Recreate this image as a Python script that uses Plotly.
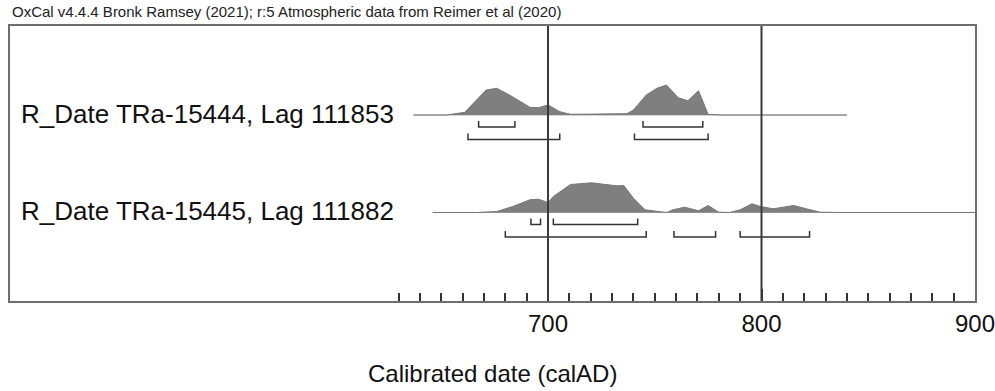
import plotly.graph_objects as go

# calibrated probability distributions (calAD, relative probability)
labels = ["R_Date TRa-15444, Lag 111853", "R_Date TRa-15445, Lag 111882"]

years_1 = [637, 652.5, 661, 671, 676, 682, 691.5, 695.5, 700, 705.5, 710.5, 724,
           737, 740, 746, 751, 755.5, 761, 765.5, 770.5, 775, 780.5, 840]
prob_1 = [0, 0, 2.7, 25, 26.7, 20, 7.7, 7.3, 10, 3.3, 0.7, 1.3,
          1.3, 5, 20, 26.7, 30, 17.3, 14.3, 24.3, 0.7, 0, 0]

years_2 = [646, 666.5, 676, 683.5, 691.5, 695.5, 700, 702.5, 710.5, 720.5, 732, 735.5,
           740, 745.5, 755.5, 758.5, 764, 770.5, 775, 780, 785, 790, 795.5, 799.5,
           805.5, 815, 821, 827.5, 837, 900]
prob_2 = [0, 0, 1, 6, 12.7, 13.3, 10, 16, 28, 29.7, 26.7, 27,
          14.3, 2.7, 0, 2.7, 5.3, 1.7, 7, 0.3, 0, 2.7, 8.7, 6,
          3.7, 7, 3.7, 0.3, 0, 0]

# highest posterior density ranges
hpd68_1 = [(667.5, 684.5), (744.5, 772.5)]
hpd95_1 = [(662.5, 705.5), (740.5, 775)]
hpd68_2 = [(692, 696.5), (702.5, 742)]
hpd95_2 = [(680, 746), (759, 778.5), (790, 822.5)]

rows = [
    (labels[0], years_1, prob_1, hpd68_1, hpd95_1, 186),
    (labels[1], years_2, prob_2, hpd68_2, hpd95_2, 88.5),
]

fig = go.Figure()

for name, yrs, p, h68, h95, base in rows:
    # baseline
    fig.add_trace(go.Scatter(x=[yrs[0], yrs[-1]], y=[base, base], mode="lines",
                             line=dict(color="#a8a8a8", width=1), hoverinfo="skip"))
    # distribution
    fig.add_trace(go.Scatter(x=yrs, y=[base + v for v in p], mode="lines",
                             fill="toself", fillcolor="#7f7f7f",
                             line=dict(color="#777777", width=1)))
    # ranges
    for lo, hi in h68:
        lv = base - 12
        fig.add_trace(go.Scatter(x=[lo, lo, hi, hi], y=[lv + 6, lv, lv, lv + 6], mode="lines",
                                 line=dict(color="#333333", width=1.5)))
    for lo, hi in h95:
        lv = base - 24.5
        fig.add_trace(go.Scatter(x=[lo, lo, hi, hi], y=[lv + 6, lv, lv, lv + 6], mode="lines",
                                 line=dict(color="#333333", width=1.5)))
    fig.add_annotation(x=629, y=base + 1.5, text=name, showarrow=False, xanchor="right",
                       yanchor="middle", font=dict(size=26, color="#111111"))

for yr in [700, 800]:
    fig.add_shape(type="line", x0=yr, x1=yr, y0=0, y1=1, yref="y domain",
                  line=dict(color="#3a3a3a", width=2))

fig.add_annotation(x=0, y=1, xref="paper", yref="paper", xanchor="left", yanchor="middle",
                   yshift=15, text="OxCal v4.4.4 Bronk Ramsey (2021); r:5 Atmospheric data from Reimer et al (2020)",
                   showarrow=False, font=dict(size=15, color="#222222"))
fig.add_annotation(x=0.5, y=-0.262, xref="paper", yref="paper", xanchor="center", yanchor="middle",
                   text="Calibrated date (calAD)", showarrow=False, font=dict(size=24, color="#111111"))

fig.update_layout(
    width=995, height=391,
    margin=dict(l=10, r=20, t=26, b=90),
    paper_bgcolor="white", plot_bgcolor="white",
    showlegend=False,
    font=dict(family="Liberation Sans, Arial, sans-serif"),
)
fig.update_xaxes(range=[448, 900], showgrid=False, zeroline=False, automargin=False,
                 showline=True, mirror=True, linecolor="#6e6e6e", linewidth=2,
                 tickmode="array", tickvals=[700, 800, 900], ticktext=["700", "800", "900"],
                 ticks="inside", ticklen=12, tickcolor="#333333", tickwidth=2,
                 ticklabeloverflow="allow",
                 tickfont=dict(size=24, color="#111111"),
                 minor=dict(tickmode="array", tickvals=list(range(630, 900, 10)),
                            ticks="inside", ticklen=8, tickcolor="#333333", tickwidth=1.5))
fig.update_yaxes(range=[0, 275], showgrid=False, zeroline=False, showticklabels=False,
                 automargin=False,
                 showline=True, mirror=True, linecolor="#6e6e6e", linewidth=2, ticks="")

# drop the default page margin so the figure fills the window
fig.write_html("out.html", config={"displayModeBar": False},
               post_script="document.body.style.margin='0';")
